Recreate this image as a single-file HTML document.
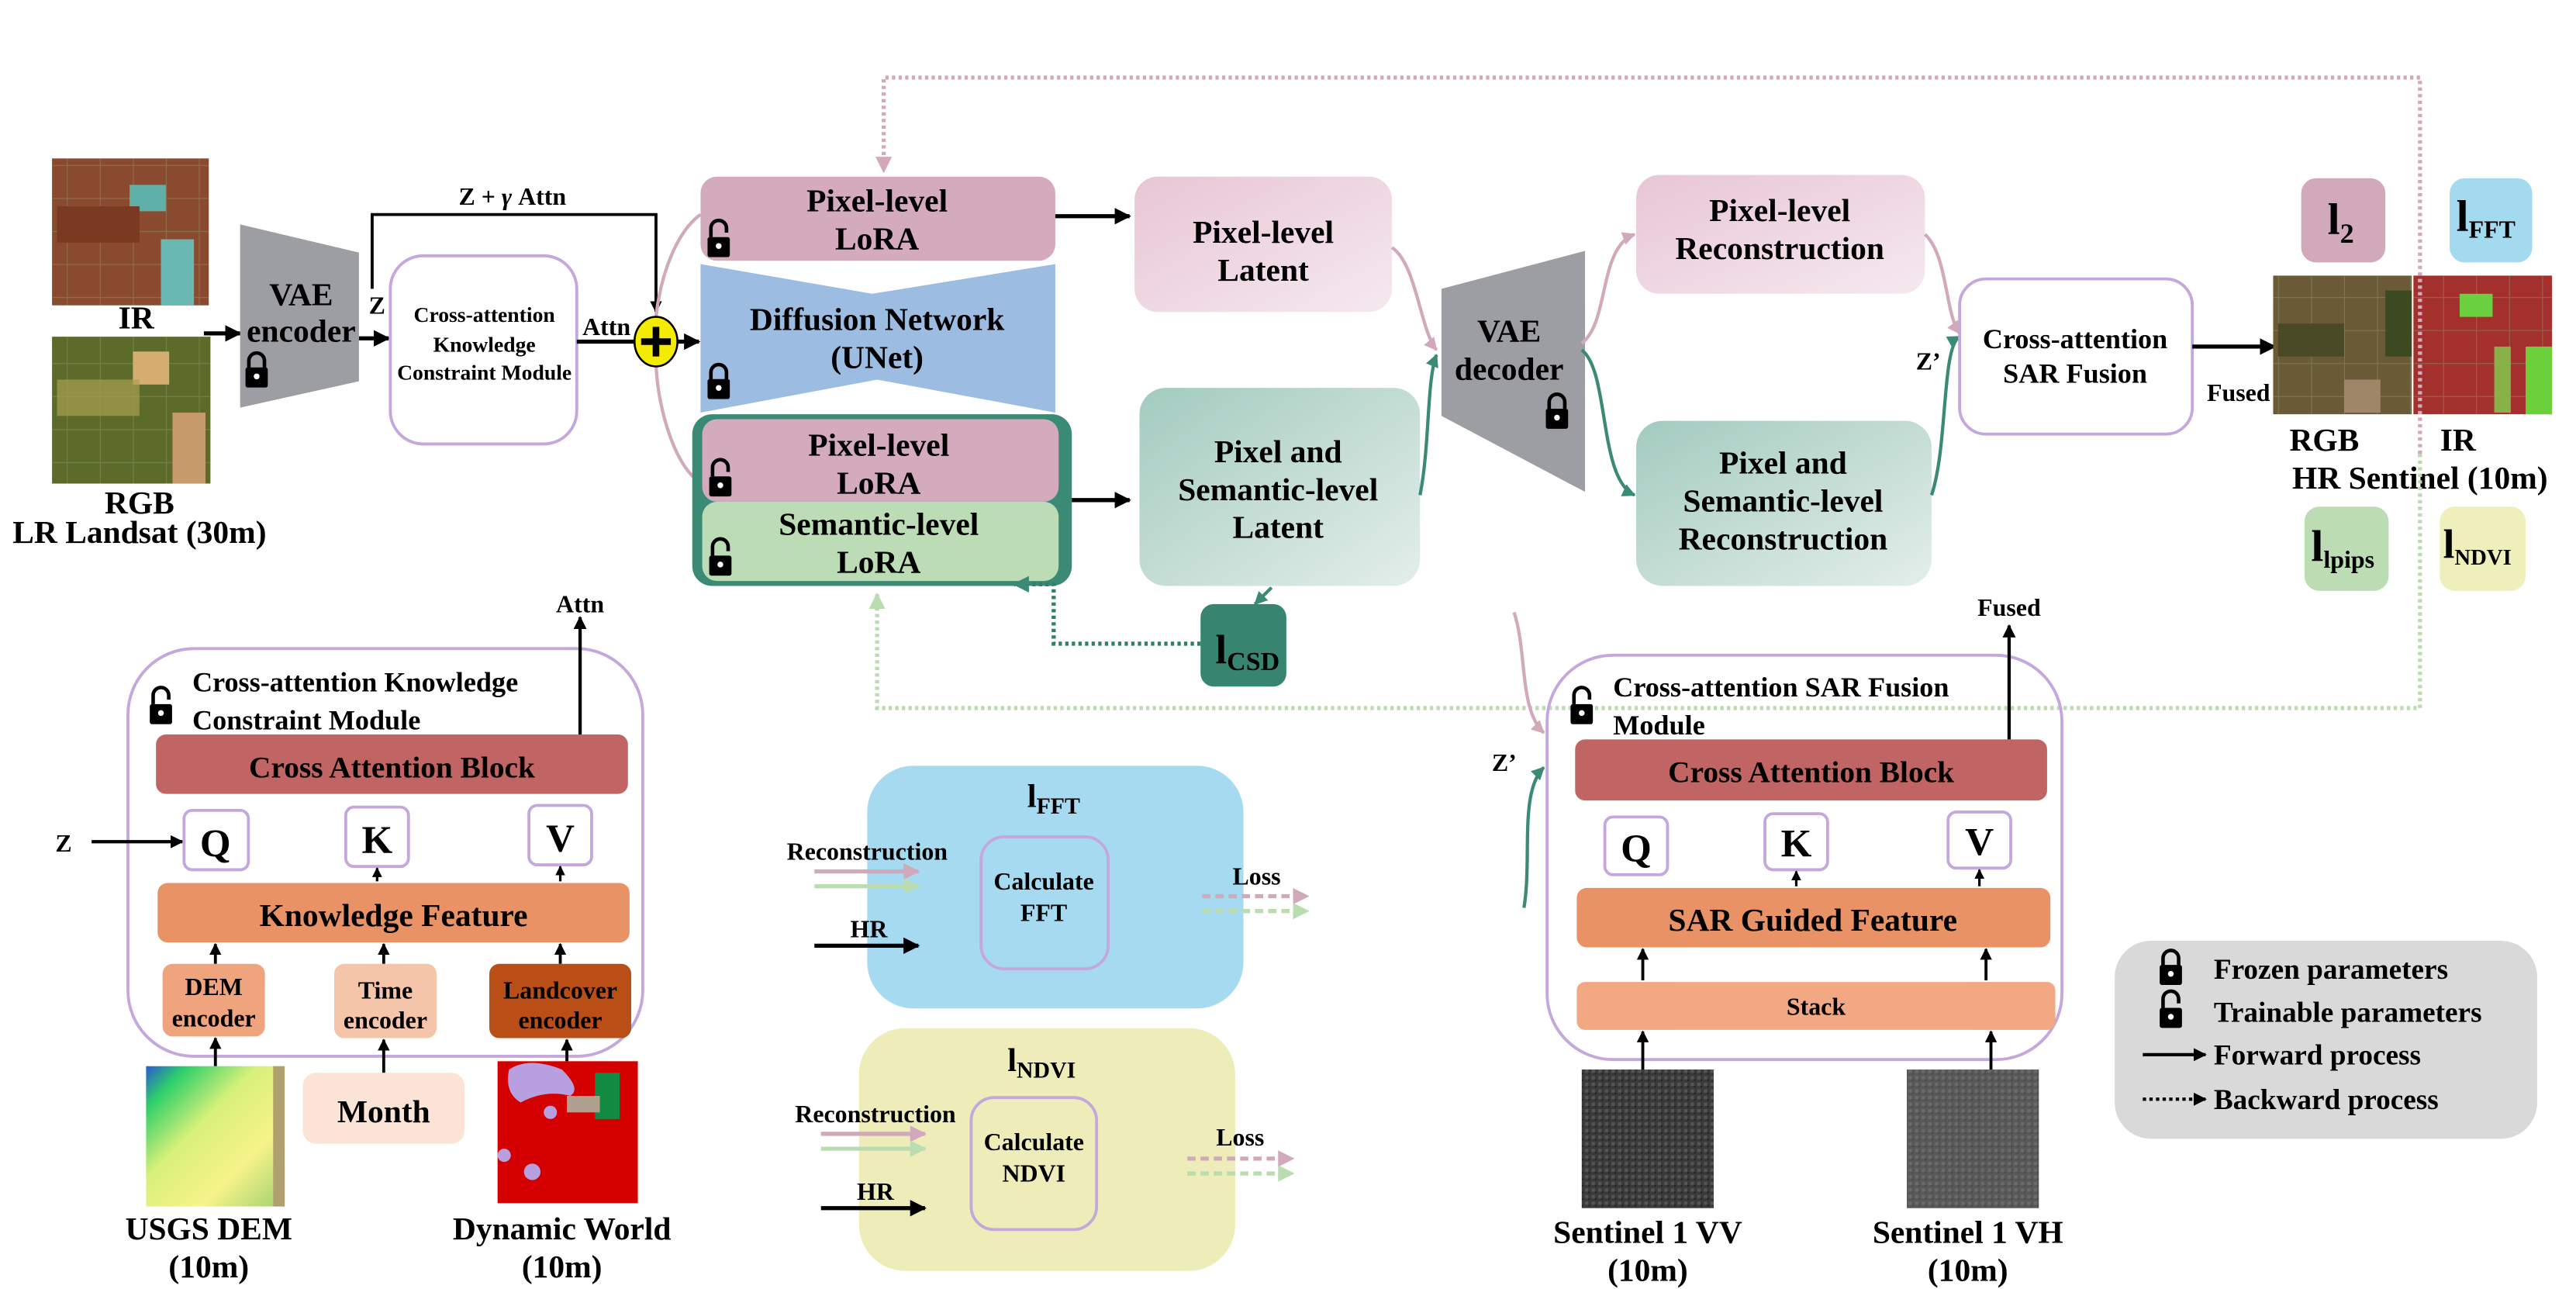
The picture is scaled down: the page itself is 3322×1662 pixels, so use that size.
<!DOCTYPE html>
<html><head><meta charset="utf-8"><style>
html,body{margin:0;padding:0;background:#fff;}
svg{display:block;}
text{font-family:"Liberation Serif",serif;font-weight:bold;fill:#000;}
</style></head><body>
<svg width="3322" height="1662" viewBox="0 0 1560 781" xmlns="http://www.w3.org/2000/svg">
<defs>
<marker id="ab" viewBox="0 0 10 10" refX="9" refY="5" markerWidth="4" markerHeight="4" orient="auto"><path d="M0,0L10,5L0,10z" fill="#000"/></marker>
<marker id="ap" viewBox="0 0 10 10" refX="9" refY="5" markerWidth="4" markerHeight="4" orient="auto"><path d="M0,0L10,5L0,10z" fill="#d1a9bb"/></marker>
<marker id="ag" viewBox="0 0 10 10" refX="9" refY="5" markerWidth="4" markerHeight="4" orient="auto"><path d="M0,0L10,5L0,10z" fill="#3a8a76"/></marker>
<marker id="alg" viewBox="0 0 10 10" refX="9" refY="5" markerWidth="4" markerHeight="4" orient="auto"><path d="M0,0L10,5L0,10z" fill="#b9dcb0"/></marker>
<g id="lc"><g transform="scale(1.35)"><path d="M-3.5,0V-4A3.5,3.5 0 0 1 3.5,-4V0" fill="none" stroke="#000" stroke-width="1.6"/><rect x="-5" y="-1" width="10" height="9" rx="1" fill="#000"/><circle cx="0" cy="3" r="1.3" fill="#fff"/></g></g>
<g id="lo"><g transform="scale(1.35)"><path d="M-3.5,-1V-5A3.5,3.5 0 0 1 3.5,-5V-3" fill="none" stroke="#000" stroke-width="1.6"/><rect x="-5" y="-1" width="10" height="9" rx="1" fill="#000"/><circle cx="0" cy="3" r="1.3" fill="#fff"/></g></g>
<linearGradient id="gp" x1="0" y1="0" x2="1" y2="1"><stop offset="0" stop-color="#e8c6d5"/><stop offset="1" stop-color="#f5e9ef"/></linearGradient>
<linearGradient id="gt" x1="0" y1="0" x2="1" y2="1"><stop offset="0" stop-color="#a3cbbf"/><stop offset="1" stop-color="#e4eeea"/></linearGradient>
<linearGradient id="dem" x1="0" y1="0" x2="1" y2="1"><stop offset="0" stop-color="#2a5ad0"/><stop offset="0.15" stop-color="#2ed06a"/><stop offset="0.4" stop-color="#d8f07a"/><stop offset="0.7" stop-color="#f7f38a"/><stop offset="1" stop-color="#a0d070"/></linearGradient>
<pattern id="fld" width="20" height="20" patternUnits="userSpaceOnUse"><path d="M0,0H20M0,0V20" stroke="#8a9a70" stroke-width="1" opacity="0.5"/></pattern>
<pattern id="sar" width="4" height="4" patternUnits="userSpaceOnUse"><rect width="4" height="4" fill="#3a3a3a"/><rect width="2" height="2" fill="#555"/><rect x="2" y="2" width="1" height="1" fill="#222"/></pattern>
</defs>

<!-- LR images -->
<rect x="31" y="96" width="95" height="89" fill="#8a4a30"/>
<rect x="31" y="96" width="95" height="89" fill="url(#fld)"/>
<rect x="78" y="112" width="22" height="16" fill="#5fb0a8"/>
<rect x="97" y="145" width="20" height="40" fill="#6ab8b2"/>
<rect x="34" y="125" width="50" height="22" fill="#7a3a22"/>
<text x="82" y="199" font-size="19.5" text-anchor="middle">IR</text>
<rect x="31" y="204" width="96" height="89" fill="#5d6b2a"/>
<rect x="31" y="204" width="96" height="89" fill="url(#fld)"/>
<rect x="80" y="213" width="22" height="20" fill="#d6ad70"/>
<rect x="104" y="250" width="20" height="43" fill="#c69a6a"/>
<rect x="34" y="230" width="50" height="22" fill="#a8a050" opacity="0.7"/>
<text x="84" y="311" font-size="19.5" text-anchor="middle">RGB</text>
<text x="84" y="329" font-size="19.5" text-anchor="middle">LR Landsat (30m)</text>
<line x1="123" y1="202" x2="145" y2="202" stroke="#000" stroke-width="2.5" marker-end="url(#ab)"/>

<!-- VAE encoder -->
<polygon points="145,136 217,153 217,231 145,247" fill="#9d9ea3"/>
<text x="182" y="185" font-size="19.5" text-anchor="middle">VAE</text>
<text x="182" y="207" font-size="19.5" text-anchor="middle">encoder</text>
<use href="#lc" x="155" y="224"/>
<text x="223" y="190" font-size="15">Z</text>
<line x1="217" y1="205" x2="235" y2="205" stroke="#000" stroke-width="2.5" marker-end="url(#ab)"/>
<polyline points="225,175 225,130 397,130 397,189" fill="none" stroke="#000" stroke-width="1.8" marker-end="url(#ab)"/>
<text x="310" y="124" font-size="15" text-anchor="middle">Z + <tspan font-style="italic">γ</tspan> Attn</text>
<rect x="236" y="155" width="113" height="114" rx="20" fill="#fff" stroke="#c4a7dc" stroke-width="1.8"/>
<text x="293" y="195" font-size="13" text-anchor="middle">Cross-attention</text>
<text x="293" y="213" font-size="13" text-anchor="middle">Knowledge</text>
<text x="293" y="230" font-size="13" text-anchor="middle">Constraint Module</text>
<text x="367" y="203" font-size="15" text-anchor="middle">Attn</text>
<line x1="349" y1="207" x2="384" y2="207" stroke="#000" stroke-width="2.5"/>
<path d="M397,220 C398,250 410,285 424,292" fill="none" stroke="#d1a9bb" stroke-width="2"/>
<path d="M397,192 C400,165 410,140 424,130" fill="none" stroke="#d1a9bb" stroke-width="2"/>
<ellipse cx="397" cy="207" rx="13" ry="15" fill="#f3ec00" stroke="#000" stroke-width="1.2"/>
<path d="M397,198V216M388,207H406" stroke="#000" stroke-width="4"/>
<line x1="410" y1="207" x2="423" y2="207" stroke="#000" stroke-width="2.5" marker-end="url(#ab)"/>

<!-- LoRA / diffusion -->
<rect x="424" y="107" width="215" height="51" rx="10" fill="#d4abbc"/>
<text x="531" y="128" font-size="19.5" text-anchor="middle">Pixel-level</text>
<text x="531" y="151" font-size="19.5" text-anchor="middle">LoRA</text>
<use href="#lo" x="435" y="145"/>
<polygon points="424,160 528,178 639,160 639,250 531,230 424,250" fill="#9dbce2"/>
<text x="531" y="200" font-size="19.5" text-anchor="middle">Diffusion Network</text>
<text x="531" y="223" font-size="19.5" text-anchor="middle">(UNet)</text>
<use href="#lc" x="435" y="231"/>
<rect x="419" y="251" width="230" height="104" rx="12" fill="#3a8a76"/>
<rect x="425" y="254" width="216" height="50" rx="9" fill="#d4abbc"/>
<text x="532" y="276" font-size="19.5" text-anchor="middle">Pixel-level</text>
<text x="532" y="299" font-size="19.5" text-anchor="middle">LoRA</text>
<use href="#lo" x="436" y="290"/>
<rect x="425" y="304" width="216" height="48" rx="9" fill="#bcdcb5"/>
<text x="532" y="324" font-size="19.5" text-anchor="middle">Semantic-level</text>
<text x="532" y="347" font-size="19.5" text-anchor="middle">LoRA</text>
<use href="#lo" x="436" y="338"/>
<line x1="639" y1="131" x2="684" y2="131" stroke="#000" stroke-width="2.5" marker-end="url(#ab)"/>
<line x1="649" y1="303" x2="684" y2="303" stroke="#000" stroke-width="2.5" marker-end="url(#ab)"/>

<!-- latents -->
<rect x="687" y="107" width="156" height="82" rx="14" fill="url(#gp)"/>
<text x="765" y="147" font-size="19.5" text-anchor="middle">Pixel-level</text>
<text x="765" y="170" font-size="19.5" text-anchor="middle">Latent</text>
<rect x="690" y="235" width="170" height="120" rx="16" fill="url(#gt)"/>
<text x="774" y="280" font-size="19.5" text-anchor="middle">Pixel and</text>
<text x="774" y="303" font-size="19.5" text-anchor="middle">Semantic-level</text>
<text x="774" y="326" font-size="19.5" text-anchor="middle">Latent</text>
<line x1="770" y1="356" x2="760" y2="366" stroke="#3a8a76" stroke-width="2" marker-end="url(#ag)"/>
<rect x="727" y="366" width="52" height="50" rx="8" fill="#378571"/>
<text x="736" y="402" font-size="25">l<tspan font-size="16" dy="4">CSD</tspan></text>
<polyline points="727,390 638,390 638,354 614,354" fill="none" stroke="#2f7f6a" stroke-width="2.5" stroke-dasharray="2,2" marker-end="url(#ag)"/>

<!-- decoder -->
<path d="M843,150 C858,160 860,200 870,212" fill="none" stroke="#d1a9bb" stroke-width="2" marker-end="url(#ap)"/>
<path d="M860,300 C866,270 864,230 870,215" fill="none" stroke="#3a8a76" stroke-width="2" marker-end="url(#ag)"/>
<polygon points="873,175 960,152 960,298 873,252" fill="#9d9ea3"/>
<text x="914" y="207" font-size="19.5" text-anchor="middle">VAE</text>
<text x="914" y="230" font-size="19.5" text-anchor="middle">decoder</text>
<use href="#lc" x="943" y="249"/>
<path d="M958,208 C975,195 968,150 990,142" fill="none" stroke="#d1a9bb" stroke-width="2" marker-end="url(#ap)"/>
<path d="M958,212 C975,225 968,290 990,300" fill="none" stroke="#3a8a76" stroke-width="2" marker-end="url(#ag)"/>
<rect x="991" y="106" width="175" height="72" rx="14" fill="url(#gp)"/>
<text x="1078" y="134" font-size="19.5" text-anchor="middle">Pixel-level</text>
<text x="1078" y="157" font-size="19.5" text-anchor="middle">Reconstruction</text>
<rect x="991" y="255" width="179" height="100" rx="16" fill="url(#gt)"/>
<text x="1080" y="287" font-size="19.5" text-anchor="middle">Pixel and</text>
<text x="1080" y="310" font-size="19.5" text-anchor="middle">Semantic-level</text>
<text x="1080" y="333" font-size="19.5" text-anchor="middle">Reconstruction</text>
<path d="M1166,142 C1180,155 1178,190 1187,202" fill="none" stroke="#d1a9bb" stroke-width="2" marker-end="url(#ap)"/>
<path d="M1170,300 C1180,270 1176,210 1187,204" fill="none" stroke="#3a8a76" stroke-width="2" marker-end="url(#ag)"/>
<text x="1168" y="224" font-size="15" text-anchor="middle">Z’</text>
<rect x="1187" y="169" width="141" height="94" rx="16" fill="#fff" stroke="#c4a7dc" stroke-width="1.8"/>
<text x="1257" y="211" font-size="17" text-anchor="middle">Cross-attention</text>
<text x="1257" y="232" font-size="17" text-anchor="middle">SAR Fusion</text>
<line x1="1328" y1="210" x2="1378" y2="210" stroke="#000" stroke-width="2.5" marker-end="url(#ab)"/>
<text x="1356" y="243" font-size="15" text-anchor="middle">Fused</text>

<!-- HR images -->
<rect x="1377" y="167" width="84" height="84" fill="#6b5a36"/>
<rect x="1377" y="167" width="84" height="84" fill="url(#fld)"/>
<rect x="1380" y="196" width="40" height="20" fill="#4a4a26"/>
<rect x="1420" y="230" width="22" height="20" fill="#a08668"/>
<rect x="1445" y="176" width="16" height="40" fill="#3c4a22"/>
<rect x="1462" y="167" width="84" height="84" fill="#a3302c"/>
<rect x="1462" y="167" width="84" height="84" fill="url(#fld)"/>
<rect x="1490" y="178" width="20" height="14" fill="#6ad040"/>
<rect x="1530" y="210" width="16" height="41" fill="#6bd03a"/>
<rect x="1511" y="210" width="10" height="40" fill="#8ab04a"/>
<text x="1408" y="273" font-size="19.5" text-anchor="middle">RGB</text>
<text x="1489" y="273" font-size="19.5" text-anchor="middle">IR</text>
<text x="1466" y="296" font-size="19.5" text-anchor="middle">HR Sentinel (10m)</text>

<rect x="1394" y="108" width="51" height="51" rx="9" fill="#d1a9bb"/>
<text x="1410" y="142" font-size="27">l<tspan font-size="17" dy="5">2</tspan></text>
<rect x="1484" y="108" width="50" height="51" rx="9" fill="#a4daef"/>
<text x="1488" y="140" font-size="27">l<tspan font-size="15" dy="4">FFT</tspan></text>
<rect x="1396" y="307" width="51" height="51" rx="9" fill="#bcdcb4"/>
<text x="1400" y="340" font-size="27">l<tspan font-size="15" dy="4">lpips</tspan></text>
<rect x="1478" y="307" width="52" height="51" rx="9" fill="#efefbb"/>
<text x="1480" y="338" font-size="25">l<tspan font-size="13.5" dy="4">NDVI</tspan></text>

<!-- dotted feedback -->
<polyline points="1466,275 1466,47 535,47 535,104" fill="none" stroke="#d1a9bb" stroke-width="2.5" stroke-dasharray="2,2" marker-end="url(#ap)"/>
<polyline points="1466,275 1466,429 531,429 531,360" fill="none" stroke="#b9dcb0" stroke-width="2.5" stroke-dasharray="2,2" marker-end="url(#alg)"/>

<!-- bottom-left module -->
<rect x="77" y="393" width="312" height="247" rx="40" fill="none" stroke="#c4a7dc" stroke-width="1.8"/>
<use href="#lo" x="97" y="428"/>
<text x="116" y="419" font-size="17">Cross-attention Knowledge</text>
<text x="116" y="442" font-size="17">Constraint Module</text>
<line x1="351" y1="445" x2="351" y2="374" stroke="#000" stroke-width="2" marker-end="url(#ab)"/>
<text x="351" y="371" font-size="15" text-anchor="middle">Attn</text>
<rect x="94" y="445" width="286" height="36" rx="6" fill="#c06464"/>
<text x="237" y="471" font-size="18.5" text-anchor="middle">Cross Attention Block</text>
<text x="38" y="516" font-size="15" text-anchor="middle">Z</text>
<line x1="55" y1="510" x2="110" y2="510" stroke="#000" stroke-width="2" marker-end="url(#ab)"/>
<rect x="111" y="491" width="39" height="36" rx="5" fill="#fff" stroke="#c4a7dc" stroke-width="1.8"/>
<text x="130" y="519" font-size="24" text-anchor="middle">Q</text>
<rect x="209" y="489" width="38" height="36" rx="5" fill="#fff" stroke="#c4a7dc" stroke-width="1.8"/>
<text x="228" y="517" font-size="24" text-anchor="middle">K</text>
<rect x="320" y="488" width="38" height="36" rx="5" fill="#fff" stroke="#c4a7dc" stroke-width="1.8"/>
<text x="339" y="516" font-size="24" text-anchor="middle">V</text>
<line x1="228" y1="534" x2="228" y2="526" stroke="#000" stroke-width="1.5" marker-end="url(#ab)"/>
<line x1="339" y1="534" x2="339" y2="525" stroke="#000" stroke-width="1.5" marker-end="url(#ab)"/>
<rect x="95" y="535" width="286" height="36" rx="6" fill="#e89266"/>
<text x="238" y="561" font-size="19.5" text-anchor="middle">Knowledge Feature</text>
<line x1="130" y1="584" x2="130" y2="572" stroke="#000" stroke-width="1.8" marker-end="url(#ab)"/>
<line x1="232" y1="584" x2="232" y2="572" stroke="#000" stroke-width="1.8" marker-end="url(#ab)"/>
<line x1="339" y1="584" x2="339" y2="572" stroke="#000" stroke-width="1.8" marker-end="url(#ab)"/>
<rect x="98" y="584" width="62" height="44" rx="6" fill="#f0a47e"/>
<text x="129" y="603" font-size="15" text-anchor="middle">DEM</text>
<text x="129" y="622" font-size="15" text-anchor="middle">encoder</text>
<rect x="202" y="584" width="62" height="45" rx="6" fill="#f5c5a9"/>
<text x="233" y="605" font-size="15" text-anchor="middle">Time</text>
<text x="233" y="623" font-size="15" text-anchor="middle">encoder</text>
<rect x="296" y="584" width="86" height="45" rx="6" fill="#b94e17"/>
<text x="339" y="605" font-size="15" text-anchor="middle">Landcover</text>
<text x="339" y="623" font-size="15" text-anchor="middle">encoder</text>
<line x1="130" y1="646" x2="130" y2="629" stroke="#000" stroke-width="1.8" marker-end="url(#ab)"/>
<line x1="232" y1="650" x2="232" y2="630" stroke="#000" stroke-width="1.8" marker-end="url(#ab)"/>
<line x1="343" y1="643" x2="343" y2="630" stroke="#000" stroke-width="1.8" marker-end="url(#ab)"/>
<rect x="88" y="646" width="84" height="85" fill="url(#dem)"/>
<rect x="165" y="646" width="7" height="85" fill="#b0a070"/>
<rect x="183" y="650" width="98" height="43" rx="8" fill="#fbe3d6"/>
<text x="232" y="680" font-size="19.5" text-anchor="middle">Month</text>
<rect x="301" y="643" width="85" height="86" fill="#d40000"/>
<path d="M308,648 Q320,640 340,648 Q352,660 345,664 Q330,660 315,668 Q305,662 308,648z" fill="#b8a0e0"/>
<rect x="360" y="650" width="15" height="28" fill="#128a42"/>
<rect x="343" y="664" width="20" height="10" fill="#b0a090"/>
<circle cx="333" cy="674" r="4" fill="#b8a0e0"/>
<circle cx="322" cy="710" r="5" fill="#b8a0e0"/>
<circle cx="305" cy="700" r="4" fill="#b8a0e0"/>
<text x="126" y="751" font-size="19.5" text-anchor="middle">USGS DEM</text>
<text x="126" y="774" font-size="19.5" text-anchor="middle">(10m)</text>
<text x="340" y="751" font-size="19.5" text-anchor="middle">Dynamic World</text>
<text x="340" y="774" font-size="19.5" text-anchor="middle">(10m)</text>

<!-- loss boxes -->
<rect x="525" y="464" width="228" height="147" rx="28" fill="#a5daf0"/>
<text x="622" y="489" font-size="20">l<tspan font-size="14" dy="4">FFT</tspan></text>
<rect x="594" y="507" width="77" height="80" rx="14" fill="none" stroke="#c4a7dc" stroke-width="1.8"/>
<text x="632" y="539" font-size="15" text-anchor="middle">Calculate</text>
<text x="632" y="558" font-size="15" text-anchor="middle">FFT</text>
<text x="525" y="521" font-size="15" text-anchor="middle">Reconstruction</text>
<line x1="493" y1="528" x2="556" y2="528" stroke="#d1a9bb" stroke-width="2.5" marker-end="url(#ap)"/>
<line x1="493" y1="537" x2="556" y2="537" stroke="#b9dcb0" stroke-width="2.5" marker-end="url(#alg)"/>
<text x="526" y="568" font-size="15" text-anchor="middle">HR</text>
<line x1="493" y1="573" x2="556" y2="573" stroke="#000" stroke-width="2.5" marker-end="url(#ab)"/>
<text x="761" y="536" font-size="15" text-anchor="middle">Loss</text>
<line x1="728" y1="543" x2="792" y2="543" stroke="#d1a9bb" stroke-width="2.5" stroke-dasharray="5,3" marker-end="url(#ap)"/>
<line x1="728" y1="552" x2="792" y2="552" stroke="#b9dcb0" stroke-width="2.5" stroke-dasharray="5,3" marker-end="url(#alg)"/>

<rect x="520" y="623" width="228" height="147" rx="28" fill="#eeedb9"/>
<text x="610" y="649" font-size="20">l<tspan font-size="14" dy="4">NDVI</tspan></text>
<rect x="588" y="665" width="76" height="80" rx="14" fill="none" stroke="#c4a7dc" stroke-width="1.8"/>
<text x="626" y="697" font-size="15" text-anchor="middle">Calculate</text>
<text x="626" y="716" font-size="15" text-anchor="middle">NDVI</text>
<text x="530" y="680" font-size="15" text-anchor="middle">Reconstruction</text>
<line x1="497" y1="687" x2="560" y2="687" stroke="#d1a9bb" stroke-width="2.5" marker-end="url(#ap)"/>
<line x1="497" y1="696" x2="560" y2="696" stroke="#b9dcb0" stroke-width="2.5" marker-end="url(#alg)"/>
<text x="530" y="727" font-size="15" text-anchor="middle">HR</text>
<line x1="497" y1="732" x2="560" y2="732" stroke="#000" stroke-width="2.5" marker-end="url(#ab)"/>
<text x="751" y="694" font-size="15" text-anchor="middle">Loss</text>
<line x1="719" y1="702" x2="783" y2="702" stroke="#d1a9bb" stroke-width="2.5" stroke-dasharray="5,3" marker-end="url(#ap)"/>
<line x1="719" y1="711" x2="783" y2="711" stroke="#b9dcb0" stroke-width="2.5" stroke-dasharray="5,3" marker-end="url(#alg)"/>

<!-- SAR module -->
<path d="M917,371 C925,395 920,430 935,444" fill="none" stroke="#d1a9bb" stroke-width="2" marker-end="url(#ap)"/>
<path d="M923,550 C928,520 920,480 935,465" fill="none" stroke="#3a8a76" stroke-width="2" marker-end="url(#ag)"/>
<text x="911" y="467" font-size="15" text-anchor="middle">Z’</text>
<rect x="937" y="397" width="312" height="245" rx="40" fill="none" stroke="#c4a7dc" stroke-width="1.8"/>
<use href="#lo" x="958" y="428"/>
<text x="977" y="422" font-size="17">Cross-attention SAR Fusion</text>
<text x="977" y="445" font-size="17">Module</text>
<line x1="1217" y1="448" x2="1217" y2="379" stroke="#000" stroke-width="2" marker-end="url(#ab)"/>
<text x="1217" y="373" font-size="15" text-anchor="middle">Fused</text>
<rect x="954" y="448" width="286" height="37" rx="6" fill="#c06464"/>
<text x="1097" y="474" font-size="18.5" text-anchor="middle">Cross Attention Block</text>
<rect x="972" y="495" width="38" height="35" rx="5" fill="#fff" stroke="#c4a7dc" stroke-width="1.8"/>
<text x="991" y="522" font-size="24" text-anchor="middle">Q</text>
<rect x="1069" y="493" width="38" height="34" rx="5" fill="#fff" stroke="#c4a7dc" stroke-width="1.8"/>
<text x="1088" y="519" font-size="24" text-anchor="middle">K</text>
<rect x="1180" y="492" width="38" height="34" rx="5" fill="#fff" stroke="#c4a7dc" stroke-width="1.8"/>
<text x="1199" y="518" font-size="24" text-anchor="middle">V</text>
<line x1="1088" y1="537" x2="1088" y2="528" stroke="#000" stroke-width="1.5" marker-end="url(#ab)"/>
<line x1="1199" y1="537" x2="1199" y2="527" stroke="#000" stroke-width="1.5" marker-end="url(#ab)"/>
<rect x="955" y="538" width="287" height="36" rx="6" fill="#e89266"/>
<text x="1098" y="564" font-size="19.5" text-anchor="middle">SAR Guided Feature</text>
<line x1="995" y1="594" x2="995" y2="575" stroke="#000" stroke-width="1.8" marker-end="url(#ab)"/>
<line x1="1203" y1="594" x2="1203" y2="575" stroke="#000" stroke-width="1.8" marker-end="url(#ab)"/>
<rect x="955" y="595" width="290" height="29" rx="5" fill="#f2a882"/>
<text x="1100" y="615" font-size="15" text-anchor="middle">Stack</text>
<line x1="995" y1="648" x2="995" y2="625" stroke="#000" stroke-width="1.8" marker-end="url(#ab)"/>
<line x1="1206" y1="648" x2="1206" y2="625" stroke="#000" stroke-width="1.8" marker-end="url(#ab)"/>
<rect x="958" y="648" width="80" height="84" fill="url(#sar)"/>
<rect x="1155" y="648" width="80" height="84" fill="url(#sar)" opacity="0.9"/>
<rect x="1155" y="648" width="80" height="84" fill="#777" opacity="0.25"/>
<text x="998" y="753" font-size="19.5" text-anchor="middle">Sentinel 1 VV</text>
<text x="998" y="776" font-size="19.5" text-anchor="middle">(10m)</text>
<text x="1192" y="753" font-size="19.5" text-anchor="middle">Sentinel 1 VH</text>
<text x="1192" y="776" font-size="19.5" text-anchor="middle">(10m)</text>

<!-- legend -->
<rect x="1281" y="570" width="256" height="120" rx="22" fill="#d9d9d9"/>
<use href="#lc" x="1315" y="586"/>
<text x="1341" y="593" font-size="17.5">Frozen parameters</text>
<use href="#lo" x="1315" y="612"/>
<text x="1341" y="619" font-size="17.5">Trainable parameters</text>
<line x1="1298" y1="639" x2="1336" y2="639" stroke="#000" stroke-width="2" marker-end="url(#ab)"/>
<text x="1341" y="645" font-size="17.5">Forward process</text>
<line x1="1298" y1="666" x2="1336" y2="666" stroke="#000" stroke-width="2" stroke-dasharray="2,2" marker-end="url(#ab)"/>
<text x="1341" y="672" font-size="17.5">Backward process</text>
</svg>
</body></html>
